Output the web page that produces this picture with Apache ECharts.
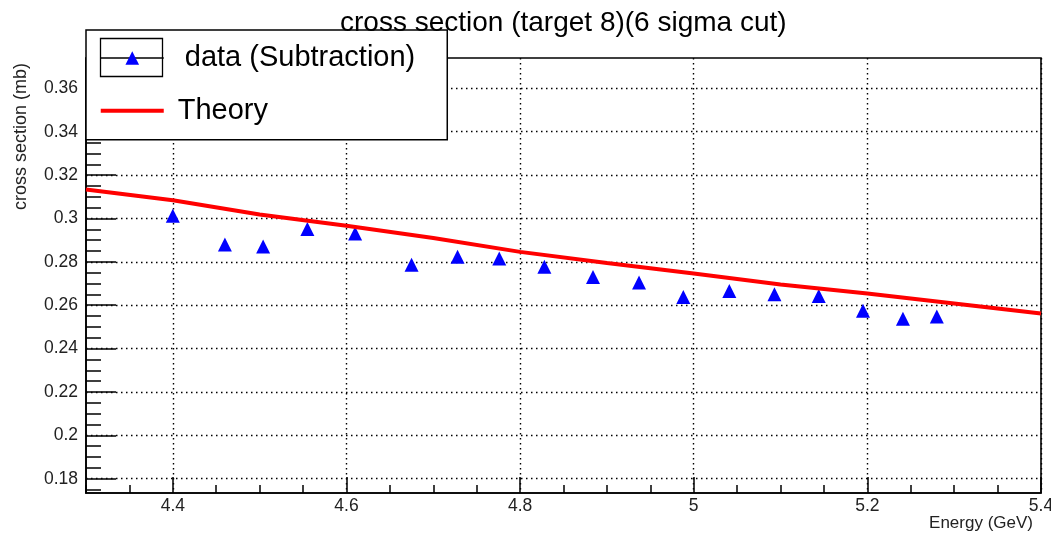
<!DOCTYPE html>
<html>
<head>
<meta charset="utf-8">
<script src="https://cdn.jsdelivr.net/npm/echarts@6/dist/echarts.min.js"></script>
<style>
  html, body { margin: 0; padding: 0; background: #fff; }
  #chart { width: 1051px; height: 535px; }
</style>
</head>
<body>
<div id="chart"></div>
<script>
// Measured cross section (subtraction method) vs beam energy
const energy = [4.400, 4.460, 4.504, 4.555, 4.610, 4.675, 4.728, 4.776, 4.828,
                4.884, 4.937, 4.988, 5.041, 5.093, 5.144, 5.195, 5.241, 5.280];
const crossSection = [0.3012, 0.2880, 0.2871, 0.2951, 0.2931, 0.2786, 0.2823, 0.2815, 0.2777,
                      0.2730, 0.2705, 0.2638, 0.2666, 0.2651, 0.2643, 0.2574, 0.2538, 0.2548];

// Theory curve sampled along the energy axis
const theoryEnergy = [4.3, 4.4, 4.5, 4.6, 4.7, 4.8, 4.9, 5.0, 5.1, 5.2, 5.3, 5.4];
const theoryValue  = [0.3134, 0.3084, 0.3018, 0.2966, 0.2910, 0.2846, 0.2795, 0.2746, 0.2695, 0.2654, 0.2608, 0.2562];

// Axis ranges and labelled ticks
const xRange = [4.3, 5.4];
const yRange = [0.1734, 0.374];
const xMajorTicks = [4.4, 4.6, 4.8, 5.0, 5.2, 5.4];
const yMajorTicks = [0.18, 0.2, 0.22, 0.24, 0.26, 0.28, 0.3, 0.32, 0.34, 0.36];

// Small subdivision ticks between the labelled ones
function tickSteps(from, to, step) {
  const out = [];
  const n = Math.round((to - from) / step);
  for (let i = 0; i <= n; i++) out.push(+(from + i * step).toFixed(4));
  return out;
}
const xMinorTicks = tickSteps(4.3, 5.4, 0.05);
const yMinorTicks = tickSteps(0.175, 0.37, 0.005);

const FONT = '"Liberation Sans", Arial, Helvetica, sans-serif';
const gridBox = { left: 86, right: 10, top: 58, bottom: 42, outerBoundsMode: 'none', containLabel: false };
const dotted = { color: '#000', width: 1.4, type: [1.5, 3.5] };

const chart = echarts.init(document.getElementById('chart'), null, { renderer: 'canvas' });

chart.setOption({
  animation: false,
  backgroundColor: '#fff',
  title: {
    text: 'cross section (target 8)(6 sigma cut)',
    left: 340, top: 9, padding: 0,
    textStyle: { fontFamily: FONT, fontSize: 28, fontWeight: 'normal', color: '#000', lineHeight: 28 }
  },
  legend: {
    orient: 'vertical', left: 86, top: 30,
    padding: [11, 32, 12, 14],
    itemWidth: 63, itemHeight: 17, itemGap: 18.7,
    backgroundColor: '#fff', borderColor: '#000', borderWidth: 1.5, borderRadius: 0,
    selectedMode: false,
    textStyle: { fontFamily: FONT, fontSize: 29, color: '#000', lineHeight: 34, padding: [0, 0, 0, 16] },
    data: [
      { name: 'data (Subtraction)', lineStyle: { color: '#000', width: 1.5, opacity: 1, type: 'solid' } },
      { name: 'Theory', icon: 'path://M0,0H63V4H0Z', textStyle: { padding: [0, 0, 0, 9] } }
    ]
  },
  graphic: [{
    type: 'rect', z: 100,
    shape: { x: 100.5, y: 38.5, width: 62, height: 38 },
    style: { fill: 'none', stroke: '#000', lineWidth: 1.3 }
  }],
  grid: [
    Object.assign({ show: true, borderColor: '#000', borderWidth: 1.6, backgroundColor: '#fff' }, gridBox),
    Object.assign({ show: false }, gridBox)
  ],
  xAxis: [{
    type: 'value', gridIndex: 0, min: xRange[0], max: xRange[1],
    name: 'Energy (GeV)', nameLocation: 'end', nameGap: 0,
    nameTextStyle: { fontFamily: FONT, fontSize: 17, color: '#222', align: 'right', verticalAlign: 'top', padding: [22, 8, 0, 0] },
    axisLine: { show: true, lineStyle: { color: '#000', width: 1.6 } },
    axisTick: { show: true, inside: true, length: 16, customValues: xMajorTicks, lineStyle: { color: '#000', width: 1.5 } },
    axisLabel: { show: true, margin: 4, customValues: xMajorTicks, fontFamily: FONT, fontSize: 17.5, color: '#222' },
    splitLine: { show: true, lineStyle: dotted }
  }, {
    type: 'value', gridIndex: 1, min: xRange[0], max: xRange[1],
    axisLine: { show: false },
    axisTick: { show: true, inside: true, length: 8, customValues: xMinorTicks, lineStyle: { color: '#000', width: 1.5 } },
    axisLabel: { show: false },
    splitLine: { show: false }
  }],
  yAxis: [{
    type: 'value', gridIndex: 0, min: yRange[0], max: yRange[1],
    name: 'cross section (mb)', nameLocation: 'end', nameGap: 0, nameRotate: 90,
    nameTextStyle: { fontFamily: FONT, fontSize: 18, color: '#222', align: 'right', verticalAlign: 'bottom', padding: [0, 5, 56, 0] },
    axisLine: { show: true, lineStyle: { color: '#000', width: 1.6 } },
    axisTick: { show: true, inside: true, length: 30, customValues: yMajorTicks, lineStyle: { color: '#000', width: 1.5 } },
    axisLabel: { show: true, margin: 8, customValues: yMajorTicks, fontFamily: FONT, fontSize: 17.5, color: '#222' },
    splitLine: { show: true, lineStyle: dotted }
  }, {
    type: 'value', gridIndex: 1, min: yRange[0], max: yRange[1],
    axisLine: { show: false },
    axisTick: { show: true, inside: true, length: 15, customValues: yMinorTicks, lineStyle: { color: '#000', width: 1.5 } },
    axisLabel: { show: false },
    splitLine: { show: false }
  }],
  series: [{
    name: 'data (Subtraction)',
    type: 'line',
    xAxisIndex: 0, yAxisIndex: 0,
    data: energy.map((e, i) => [e, crossSection[i]]),
    symbol: 'triangle', symbolSize: 14, showSymbol: true,
    itemStyle: { color: '#0000ff' },
    lineStyle: { width: 0, opacity: 0 },
    z: 3
  }, {
    name: 'Theory',
    type: 'line',
    xAxisIndex: 0, yAxisIndex: 0,
    data: theoryEnergy.map((e, i) => [e, theoryValue[i]]),
    symbol: 'none', smooth: false,
    itemStyle: { color: '#ff0000' },
    lineStyle: { color: '#ff0000', width: 4 },
    z: 4
  }]
});
</script>
</body>
</html>
